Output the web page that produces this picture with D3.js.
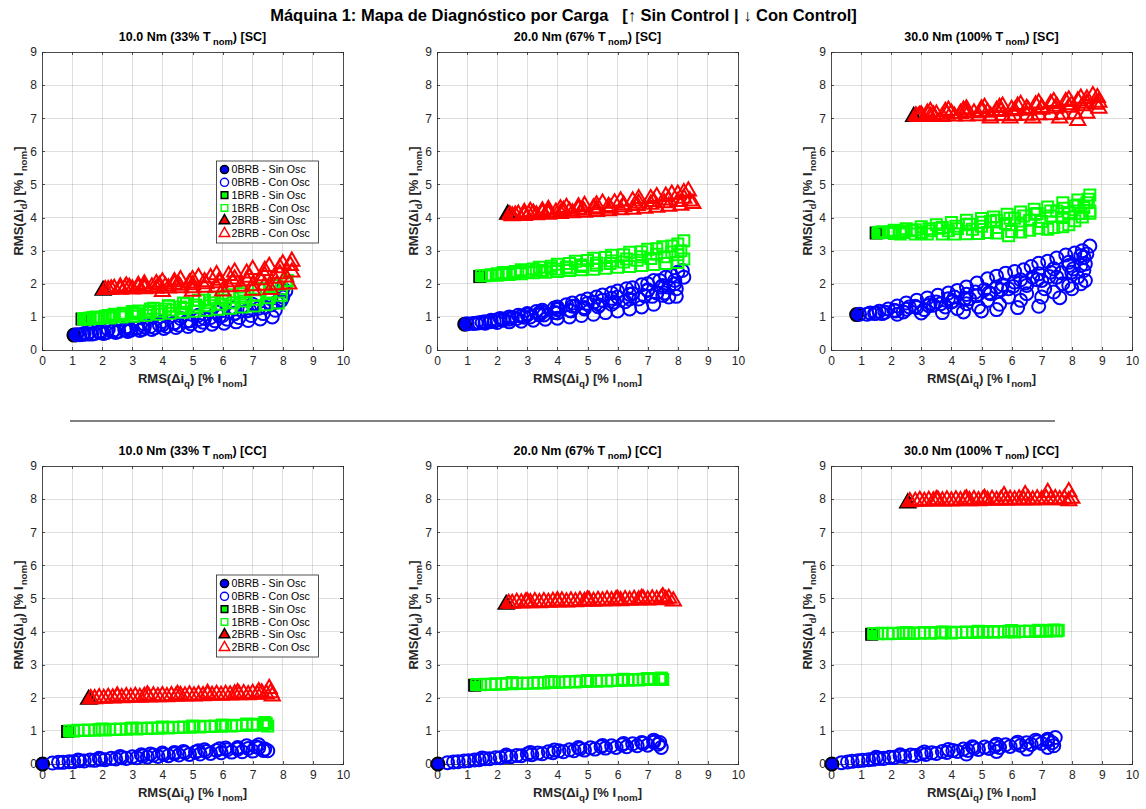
<!DOCTYPE html>
<meta charset="utf-8">
<style>
body { margin: 0; background: #fff; }
svg text { font-family: "Liberation Sans", Arial, sans-serif; fill: #262626; }
.axis path, .axis line { stroke: #262626; stroke-width: 0.8; fill: none; shape-rendering: crispEdges; }
.axis text { font-size: 12px; fill: #262626; }
.grid line { stroke: #262626; stroke-opacity: 0.15; shape-rendering: crispEdges; }
.ttl { font-size: 12.5px; font-weight: bold; fill: #000; }
.lbl { font-size: 13px; font-weight: bold; fill: #262626; }
.leg text { font-size: 10.6px; fill: #000; }
</style>
<body>
<script src="https://cdn.jsdelivr.net/npm/d3@7"></script>
<script>

// tick values
var xTickVals = [0, 1, 2, 3, 4, 5, 6, 7, 8, 9, 10];
var yTickVals = [0, 1, 2, 3, 4, 5, 6, 7, 8, 9];

var legendNames = ["0BRB - Sin Osc", "0BRB - Con Osc", "1BRB - Sin Osc", "1BRB - Con Osc", "2BRB - Sin Osc", "2BRB - Con Osc"];
var loads = ["10.0", "20.0", "30.0"];
var pcts = ["33%", "67%", "100%"];
var modes = ["SC", "CC"];

// ---- Sin Control (SC) ----
// points without oscillation: [0BRB, 1BRB, 2BRB]
var sinSC10 = [[1.06, 0.45], [1.33, 0.94], [2.03, 1.8]];
var sinSC20 = [[0.92, 0.78], [1.42, 2.22], [2.35, 4.1]];
var sinSC30 = [[0.85, 1.07], [1.5, 3.53], [2.75, 7.05]];

var conSC10_0 = [[1.15,0.46],[1.25,0.46],[1.65,0.48],[2.05,0.5],[2.45,0.53],[2.85,0.56],[3.25,0.59],[3.65,0.62],[4.05,0.65],[4.45,0.68],[4.85,0.71],[5.25,0.74],[5.65,0.78],[6.05,0.81],[6.45,0.85],[6.85,0.89],[7.25,0.94],[7.65,1.0],
  [1.4,0.5],[1.9,0.55],[2.4,0.6],[2.9,0.65],[3.4,0.7],[3.9,0.76],[4.4,0.82],[4.9,0.88],[5.4,0.95],[5.9,1.02],[6.4,1.1],[6.9,1.2],[7.4,1.3],[7.8,1.45],[8.0,1.6],[8.1,1.78],
  [1.6,0.55],[2.2,0.62],[2.8,0.7],[3.4,0.78],[4.0,0.86],[4.6,0.95],[5.2,1.05],[5.8,1.15],[6.4,1.26],[7.0,1.38],[7.6,1.55],[8.0,1.85],
  [1.35,0.47],[1.75,0.5],[2.15,0.53],[2.55,0.56],[2.95,0.6],[3.35,0.63],[3.75,0.67],[4.15,0.71],[4.55,0.75],[4.95,0.79],[5.35,0.84],[5.75,0.88],[6.15,0.93],[6.55,0.98],[6.95,1.04],[7.35,1.1],[7.75,1.2],
  [1.5,0.48],[1.95,0.52],[2.35,0.57],[2.75,0.61],[3.15,0.66],[3.6,0.71],[4.0,0.76],[4.4,0.81],[4.8,0.86],[5.2,0.92],[5.6,0.98],[6.0,1.04],[6.4,1.11],[6.8,1.18],[7.2,1.26],[7.6,1.36],[7.95,1.5]];
var conSC10_1 = [[1.38,0.95],[1.45,0.93],[1.85,0.95],[2.25,0.97],[2.65,1.0],[3.05,1.02],[3.45,1.05],[3.85,1.08],[4.25,1.11],[4.65,1.14],[5.05,1.17],[5.45,1.2],[5.85,1.23],[6.25,1.26],[6.65,1.3],[7.05,1.33],[7.45,1.37],[7.85,1.42],
  [1.6,0.97],[2.1,1.02],[2.6,1.07],[3.1,1.12],[3.6,1.18],[4.1,1.24],[4.6,1.3],[5.1,1.36],[5.6,1.43],[6.1,1.5],[6.6,1.57],[7.1,1.65],[7.6,1.75],[7.95,1.85],
  [1.8,1.0],[2.4,1.08],[3.0,1.16],[3.6,1.24],[4.2,1.32],[4.8,1.4],[5.4,1.5],[6.0,1.6],[6.6,1.7],[7.2,1.82],[7.7,1.95],[8.15,2.1],
  [1.55,0.94],[1.95,0.98],[2.35,1.02],[2.75,1.05],[3.15,1.09],[3.55,1.13],[3.95,1.17],[4.35,1.21],[4.75,1.25],[5.15,1.29],[5.55,1.34],[5.95,1.38],[6.35,1.43],[6.75,1.48],[7.15,1.53],[7.55,1.58],[7.95,1.65],
  [1.7,0.98],[2.2,1.04],[2.7,1.11],[3.2,1.18],[3.7,1.26],[4.2,1.34],[4.7,1.42],[5.2,1.5],[5.7,1.58],[6.2,1.67],[6.7,1.76],[7.2,1.86],[7.7,1.98],[8.1,2.0]];
var conSC10_2 = [[2.1,1.82],[2.2,1.82],[2.6,1.83],[3.0,1.84],[3.4,1.85],[3.8,1.86],[4.2,1.87],[4.6,1.88],[5.0,1.88],[5.4,1.89],[5.8,1.9],[6.2,1.91],[6.6,1.92],[7.0,1.94],[7.4,1.95],[7.8,1.97],[8.2,1.99],
  [2.4,1.86],[2.9,1.89],[3.4,1.92],[3.9,1.95],[4.4,1.98],[4.9,2.02],[5.4,2.06],[5.9,2.1],[6.4,2.14],[6.9,2.19],[7.4,2.24],[7.9,2.3],[8.3,2.35],
  [2.6,1.9],[3.2,1.95],[3.8,2.0],[4.4,2.06],[5.0,2.12],[5.6,2.18],[6.2,2.25],[6.8,2.32],[7.4,2.4],[7.9,2.48],[8.25,2.55],
  [2.3,1.84],[2.75,1.86],[3.2,1.88],[3.65,1.9],[4.1,1.92],[4.55,1.95],[5.0,1.97],[5.45,2.0],[5.9,2.03],[6.35,2.06],[6.8,2.09],[7.25,2.12],[7.7,2.16],[8.1,2.2],
  [2.8,1.93],[3.4,1.99],[4.0,2.05],[4.6,2.12],[5.2,2.19],[5.8,2.27],[6.4,2.35],[7.0,2.43],[7.55,2.52],[8.0,2.6],[8.3,2.68],
  [4.0,1.76],[5.0,1.77],[6.0,1.78],[7.0,1.8],[7.6,1.82]];

var conSC20_0 = [[1.0,0.79],[1.2,0.8],[1.6,0.81],[2.0,0.83],[2.4,0.85],[2.8,0.87],[3.2,0.9],[3.6,0.93],[4.0,0.96],[4.4,1.0],[4.8,1.04],[5.2,1.08],[5.6,1.13],[6.0,1.18],[6.4,1.24],[6.8,1.3],[7.2,1.38],
  [1.4,0.82],[1.9,0.87],[2.4,0.93],[2.9,0.99],[3.4,1.06],[3.9,1.13],[4.4,1.2],[4.9,1.28],[5.4,1.36],[5.9,1.45],[6.4,1.54],[6.9,1.63],[7.3,1.72],[7.7,1.6],[7.95,1.62],
  [1.6,0.85],[2.2,0.93],[2.8,1.02],[3.4,1.12],[4.0,1.22],[4.6,1.33],[5.2,1.44],[5.8,1.56],[6.4,1.68],[7.0,1.82],[7.5,1.95],[7.9,2.1],
  [1.8,0.9],[2.4,1.0],[3.0,1.1],[3.5,1.2],[4.0,1.3],[4.5,1.42],[5.0,1.54],[5.5,1.66],[6.0,1.78],[6.5,1.88],[7.0,2.0],[7.4,2.1],[7.8,2.25],[8.15,2.4],
  [7.5,1.65],[7.7,1.9],
  [1.3,0.81],[1.75,0.85],[2.2,0.9],[2.65,0.95],[3.1,1.0],[3.55,1.06],[4.0,1.12],[4.45,1.18],[4.9,1.24],[5.35,1.31],[5.8,1.38],[6.25,1.46],[6.7,1.54],[7.15,1.62],[7.55,1.72],[7.95,1.85],
  [1.5,0.84],[2.0,0.91],[2.5,0.98],[3.0,1.06],[3.5,1.14],[4.0,1.23],[4.5,1.32],[5.0,1.41],[5.5,1.5],[6.0,1.6],[6.5,1.7],[7.0,1.8],[7.45,1.9],[7.9,2.0],[8.2,2.2],
  [2.1,0.95],[2.7,1.05],[3.3,1.16],[3.9,1.27],[4.3,1.37],[4.8,1.48],[5.3,1.6],[5.8,1.72],[6.3,1.85],[6.8,1.97],[7.2,2.1],[7.6,2.2],[8.0,2.35]];
var conSC20_1 = [[1.48,2.24],[1.6,2.24],[2.0,2.26],[2.4,2.28],[2.8,2.3],[3.2,2.33],[3.6,2.35],[4.0,2.37],[4.4,2.4],[4.8,2.42],[5.2,2.44],[5.6,2.47],[6.0,2.5],[6.4,2.52],[6.8,2.55],[7.2,2.58],[7.6,2.61],[8.0,2.64],
  [1.8,2.27],[2.3,2.31],[2.8,2.36],[3.3,2.41],[3.8,2.46],[4.3,2.51],[4.8,2.57],[5.3,2.63],[5.8,2.69],[6.3,2.75],[6.8,2.82],[7.3,2.89],[7.8,2.96],[8.1,3.0],
  [2.0,2.3],[2.6,2.37],[3.2,2.45],[3.8,2.53],[4.4,2.61],[5.0,2.7],[5.6,2.79],[6.2,2.88],[6.8,2.97],[7.3,3.06],[7.8,3.14],[8.2,3.3],
  [1.7,2.25],[2.15,2.28],[2.6,2.32],[3.05,2.36],[3.5,2.4],[3.95,2.44],[4.4,2.48],[4.85,2.52],[5.3,2.56],[5.75,2.61],[6.2,2.66],[6.65,2.71],[7.1,2.76],[7.55,2.82],[8.0,2.88],[8.2,2.75],
  [2.2,2.34],[2.8,2.42],[3.4,2.5],[4.0,2.59],[4.6,2.68],[5.2,2.77],[5.8,2.86],[6.4,2.95],[7.0,3.04],[7.5,3.12],[8.0,3.2]];
var conSC20_2 = [[2.42,4.08],[2.5,4.05],[2.9,4.06],[3.3,4.08],[3.7,4.1],[4.1,4.12],[4.5,4.14],[4.9,4.16],[5.3,4.18],[5.7,4.2],[6.1,4.23],[6.5,4.25],[6.9,4.28],[7.3,4.31],[7.7,4.34],[8.1,4.37],[8.5,4.42],
  [2.7,4.1],[3.2,4.13],[3.7,4.17],[4.2,4.21],[4.7,4.25],[5.2,4.29],[5.7,4.33],[6.2,4.38],[6.7,4.43],[7.2,4.48],[7.7,4.53],[8.2,4.58],
  [2.9,4.15],[3.5,4.2],[4.1,4.26],[4.7,4.32],[5.3,4.38],[5.9,4.44],[6.5,4.5],[7.1,4.57],[7.6,4.64],[8.0,4.7],[8.35,4.8],
  [2.6,4.07],[3.05,4.1],[3.5,4.13],[3.95,4.16],[4.4,4.19],[4.85,4.22],[5.3,4.25],[5.75,4.28],[6.2,4.32],[6.65,4.36],[7.1,4.4],[7.55,4.44],[8.0,4.48],[8.4,4.5],
  [3.1,4.18],[3.7,4.24],[4.3,4.3],[4.9,4.36],[5.5,4.43],[6.1,4.5],[6.7,4.57],[7.3,4.63],[7.8,4.7],[8.2,4.75]];

var conSC30_0 = [[0.95,1.08],[1.3,1.12],[1.6,1.17],[1.9,1.24],[2.2,1.33],[2.5,1.42],[2.85,1.5],[3.2,1.57],[3.55,1.65],[3.9,1.72],[4.2,1.8],[4.5,1.9],[4.85,2.02],[5.2,2.15],[5.5,2.23],[5.8,2.32],[6.1,2.37],[6.4,2.42],[6.65,2.52],[6.9,2.62],[7.2,2.68],[7.5,2.78],[7.8,2.87],[8.1,2.93],[8.35,3.0],[8.6,3.14],
  [1.5,1.12],[2.1,1.2],[2.8,1.32],[3.5,1.45],[4.1,1.6],[4.8,1.75],[5.5,1.9],[6.1,2.05],[6.7,2.2],[7.3,2.35],[7.9,2.55],[8.4,2.8],[8.5,2.9],
  [1.7,1.1],[2.4,1.15],[3.1,1.22],[3.8,1.3],[4.5,1.4],[5.2,1.5],[5.9,1.6],[6.5,1.7],[7.1,1.85],[7.7,2.0],[8.2,2.2],[8.4,2.4],
  [2.2,1.08],[3.0,1.12],[3.7,1.13],[4.4,1.15],[5.0,1.18],[5.5,1.22],[6.2,1.28],[6.9,1.32],[7.6,1.58],[8.0,1.85],[8.45,2.1],
  [3.4,1.35],[4.0,1.45],[4.6,1.55],[5.3,1.7],[5.9,1.85],[6.5,1.95],[7.0,2.1],[7.5,2.2],[8.0,2.35],[8.3,2.55],
  [1.2,1.08],[1.45,1.1],[1.8,1.14],[2.15,1.18],[2.5,1.23],[2.85,1.28],[3.25,1.34],[3.65,1.4],[4.05,1.48],[4.45,1.56],[4.85,1.64],[5.25,1.73],[5.65,1.82],[6.05,1.92],[6.45,2.02],[6.85,2.12],[7.25,2.22],[7.65,2.33],[8.05,2.45],[8.45,2.6],
  [2.6,1.3],[3.3,1.42],[3.9,1.55],[4.5,1.68],[5.1,1.82],[5.7,1.97],[6.3,2.12],[6.9,2.3],[7.4,2.45],[7.9,2.65],[8.3,2.85],
  [4.2,1.25],[4.9,1.3],[5.6,1.38],[6.3,1.5],[7.0,1.6],[7.4,1.75],[7.9,1.95],[8.3,2.0]];
var conSC30_1 = [[1.56,3.54],[1.7,3.57],[2.1,3.62],[2.5,3.66],[3.0,3.72],[3.5,3.78],[4.0,3.85],[4.5,3.92],[5.0,3.97],[5.4,4.02],[5.85,4.1],[6.3,4.17],[6.75,4.25],[7.2,4.32],[7.7,4.45],[8.2,4.53],[8.6,4.68],
  [1.9,3.55],[2.7,3.6],[3.6,3.68],[4.5,3.78],[5.3,3.88],[6.1,3.98],[6.8,4.1],[7.5,4.2],[8.1,4.35],[8.5,4.45],
  [2.1,3.52],[3.0,3.55],[3.9,3.6],[4.7,3.65],[5.5,3.7],[6.3,3.78],[7.0,3.88],[7.7,4.0],[8.3,4.12],[8.6,4.2],
  [2.3,3.5],[2.8,3.5],[3.2,3.5],[3.7,3.5],[4.1,3.5],[4.5,3.51],[4.9,3.52],[5.5,3.53],[5.9,3.45],[6.3,3.56],[6.9,3.68],[7.4,3.7],[7.9,3.78],[8.35,4.02],[8.6,4.13],
  [1.6,3.54],[2.0,3.57],[2.4,3.6],[2.8,3.63],[3.25,3.66],[3.7,3.7],[4.15,3.74],[4.6,3.8],[5.05,3.86],[5.5,3.92],[5.95,3.98],[6.4,4.05],[6.85,4.12],[7.3,4.2],[7.75,4.28],[8.2,4.38],[8.55,4.55],
  [2.4,3.55],[3.3,3.6],[4.2,3.66],[5.0,3.74],[5.8,3.82],[6.6,3.92],[7.3,4.05],[7.9,4.15],[8.4,4.3],
  [5.2,3.55],[6.0,3.58],[6.6,3.62],[7.2,3.65],[7.7,3.72],[8.1,3.9]];
var conSC30_2 = [[2.82,7.07],[2.9,7.05],[3.3,7.05],[3.7,7.05],[4.1,7.06],[4.5,7.06],[4.9,7.07],[5.3,7.07],[5.7,7.08],[6.1,7.08],[6.5,7.09],[6.9,7.1],[7.3,7.1],[7.7,7.12],[8.1,7.13],[8.5,7.15],[8.9,7.3],
  [3.0,7.1],[3.5,7.12],[4.0,7.15],[4.5,7.18],[5.0,7.2],[5.5,7.23],[6.0,7.26],[6.5,7.29],[7.0,7.32],[7.5,7.36],[8.0,7.4],[8.5,7.45],[8.9,7.48],
  [3.2,7.15],[3.8,7.2],[4.4,7.24],[5.0,7.28],[5.6,7.32],[6.2,7.36],[6.8,7.4],[7.3,7.44],[7.8,7.5],[8.2,7.52],[8.5,7.58],[8.85,7.62],
  [2.95,7.08],[3.4,7.1],[3.85,7.12],[4.3,7.14],[4.75,7.16],[5.2,7.18],[5.65,7.2],[6.1,7.22],[6.55,7.24],[7.0,7.27],[7.45,7.3],[7.9,7.33],[8.35,7.37],[8.8,7.42],
  [3.3,7.2],[3.9,7.24],[4.5,7.28],[5.1,7.32],[5.7,7.36],[6.3,7.41],[6.9,7.46],[7.4,7.5],[7.9,7.55],[8.3,7.6],[8.7,7.68],
  [5.3,7.0],[5.95,7.0],[6.7,7.0],[7.6,7.0],[8.2,6.93]];

// ---- Con Control (CC) ----
var sinCC10 = [[0.02, 0.0], [0.85, 0.98], [1.55, 1.95]];
var sinCC20 = [[0.03, 0.0], [1.25, 2.38], [2.3, 4.82]];
var sinCC30 = [[0.03, 0.0], [1.35, 3.92], [2.55, 7.88]];

var conCC10_0 = [[0.35,0.03],[0.7,0.05],[1.05,0.07],[1.4,0.09],[1.75,0.11],[2.1,0.13],[2.45,0.15],[2.8,0.17],[3.15,0.19],[3.5,0.21],[3.85,0.23],[4.2,0.25],[4.55,0.27],[4.9,0.29],[5.25,0.3],[5.6,0.32],[5.95,0.34],[6.3,0.36],[6.65,0.37],[7.0,0.39],[7.35,0.41],[7.5,0.4],
  [1.2,0.12],[1.9,0.17],[2.6,0.23],[3.3,0.28],[4.0,0.33],[4.7,0.38],[5.4,0.43],[6.1,0.48],[6.8,0.55],[7.2,0.58],
  [3.6,0.3],[4.4,0.35],[5.2,0.4],[5.9,0.46],[6.5,0.5],[7.1,0.52],[7.4,0.45],
  [0.55,0.05],[0.9,0.07],[1.25,0.1],[1.6,0.12],[1.95,0.14],[2.3,0.17],[2.65,0.19],[3.0,0.22],[3.35,0.24],[3.7,0.27],[4.05,0.29],[4.4,0.31],[4.75,0.34],[5.1,0.36],[5.45,0.38],[5.8,0.41],[6.15,0.43],[6.5,0.45],[6.85,0.47],[7.2,0.49]];
var conCC10_1 = [[0.92,1.0],[1.05,1.0],[1.4,1.01],[1.75,1.02],[2.1,1.03],[2.45,1.04],[2.8,1.05],[3.15,1.06],[3.5,1.07],[3.85,1.08],[4.2,1.09],[4.55,1.1],[4.9,1.11],[5.25,1.12],[5.6,1.13],[5.95,1.14],[6.3,1.15],[6.65,1.16],[7.0,1.17],[7.35,1.18],[7.5,1.15],
  [2.0,1.06],[3.0,1.09],[4.0,1.12],[5.0,1.15],[6.0,1.18],[6.8,1.21],[7.4,1.25],
  [1.2,1.02],[1.55,1.03],[1.9,1.04],[2.25,1.05],[2.6,1.06],[2.95,1.07],[3.3,1.08],[3.65,1.09],[4.0,1.1],[4.35,1.11],[4.7,1.12],[5.05,1.13],[5.4,1.14],[5.75,1.15],[6.1,1.16],[6.45,1.17],[6.8,1.18],[7.15,1.2],[7.45,1.22]];
var conCC10_2 = [[1.62,1.97],[1.75,1.97],[2.05,1.98],[2.35,1.99],[2.65,2.0],[2.95,2.01],[3.25,2.01],[3.55,2.02],[3.85,2.03],[4.15,2.03],[4.45,2.04],[4.75,2.05],[5.05,2.05],[5.35,2.06],[5.65,2.07],[5.95,2.07],[6.25,2.08],[6.55,2.09],[6.85,2.09],[7.15,2.1],[7.45,2.11],[7.65,2.05],
  [2.5,2.05],[3.5,2.08],[4.5,2.1],[5.5,2.13],[6.5,2.15],[7.2,2.18],[7.55,2.28],
  [1.9,2.0],[2.2,2.01],[2.5,2.02],[2.8,2.03],[3.1,2.04],[3.4,2.04],[3.7,2.05],[4.0,2.06],[4.3,2.06],[4.6,2.07],[4.9,2.08],[5.2,2.08],[5.5,2.09],[5.8,2.1],[6.1,2.1],[6.4,2.11],[6.7,2.12],[7.0,2.13],[7.3,2.14],[7.6,2.15]];

var conCC20_0 = [[0.35,0.04],[0.7,0.07],[1.05,0.1],[1.4,0.13],[1.75,0.16],[2.1,0.19],[2.45,0.22],[2.8,0.25],[3.15,0.28],[3.5,0.31],[3.85,0.34],[4.2,0.37],[4.55,0.4],[4.9,0.42],[5.25,0.45],[5.6,0.48],[5.95,0.5],[6.3,0.52],[6.65,0.55],[7.0,0.57],[7.35,0.6],[7.45,0.5],
  [1.5,0.18],[2.3,0.27],[3.1,0.35],[3.9,0.42],[4.7,0.5],[5.5,0.56],[6.2,0.62],[6.8,0.65],[7.2,0.72],[7.4,0.65],
  [0.55,0.06],[0.9,0.09],[1.25,0.12],[1.6,0.16],[1.95,0.19],[2.3,0.23],[2.65,0.26],[3.0,0.3],[3.35,0.33],[3.7,0.37],[4.05,0.4],[4.4,0.43],[4.75,0.46],[5.1,0.49],[5.45,0.52],[5.8,0.55],[6.15,0.58],[6.5,0.61],[6.85,0.63],[7.2,0.66]];
var conCC20_1 = [[1.32,2.4],[1.45,2.39],[1.8,2.4],[2.15,2.41],[2.5,2.42],[2.85,2.43],[3.2,2.44],[3.55,2.45],[3.9,2.46],[4.25,2.47],[4.6,2.48],[4.95,2.49],[5.3,2.5],[5.65,2.51],[6.0,2.52],[6.35,2.53],[6.7,2.54],[7.05,2.55],[7.4,2.56],[7.5,2.55],
  [2.5,2.46],[3.8,2.49],[5.0,2.52],[6.2,2.56],[7.0,2.58],[7.45,2.6],
  [1.6,2.41],[1.95,2.42],[2.3,2.43],[2.65,2.44],[3.0,2.45],[3.35,2.46],[3.7,2.47],[4.05,2.48],[4.4,2.49],[4.75,2.5],[5.1,2.51],[5.45,2.52],[5.8,2.53],[6.15,2.54],[6.5,2.55],[6.85,2.56],[7.2,2.57],[7.45,2.58]];
var conCC20_2 = [[2.38,4.85],[2.5,4.85],[2.8,4.86],[3.1,4.87],[3.4,4.87],[3.7,4.88],[4.0,4.89],[4.3,4.89],[4.6,4.9],[4.9,4.91],[5.2,4.91],[5.5,4.92],[5.8,4.93],[6.1,4.93],[6.4,4.94],[6.7,4.95],[7.0,4.95],[7.3,4.96],[7.6,4.97],[7.85,4.92],
  [3.0,4.9],[4.0,4.93],[5.0,4.95],[6.0,4.97],[6.8,5.0],[7.5,5.05],
  [2.65,4.88],[2.95,4.89],[3.25,4.9],[3.55,4.9],[3.85,4.91],[4.15,4.92],[4.45,4.92],[4.75,4.93],[5.05,4.94],[5.35,4.94],[5.65,4.95],[5.95,4.96],[6.25,4.96],[6.55,4.97],[6.85,4.98],[7.15,4.98],[7.45,4.99],[7.7,5.0]];

var conCC30_0 = [[0.35,0.04],[0.7,0.08],[1.05,0.11],[1.4,0.14],[1.75,0.17],[2.1,0.2],[2.45,0.23],[2.8,0.26],[3.15,0.29],[3.5,0.32],[3.85,0.35],[4.2,0.38],[4.55,0.41],[4.9,0.44],[5.25,0.47],[5.6,0.5],[5.95,0.53],[6.3,0.56],[6.65,0.59],[7.0,0.62],[7.35,0.64],[7.4,0.55],
  [1.5,0.2],[2.3,0.28],[3.1,0.36],[3.9,0.44],[4.7,0.52],[5.5,0.6],[6.2,0.66],[6.8,0.72],[7.2,0.75],[7.45,0.8],
  [4.5,0.3],[5.5,0.38],[6.5,0.45],[7.2,0.5],
  [0.55,0.06],[0.9,0.1],[1.25,0.13],[1.6,0.17],[1.95,0.2],[2.3,0.24],[2.65,0.27],[3.0,0.31],[3.35,0.34],[3.7,0.38],[4.05,0.41],[4.4,0.45],[4.75,0.48],[5.1,0.51],[5.45,0.54],[5.8,0.58],[6.15,0.61],[6.5,0.64],[6.85,0.67],[7.2,0.7]];
var conCC30_1 = [[1.42,3.94],[1.55,3.93],[1.9,3.93],[2.25,3.94],[2.6,3.94],[2.95,3.95],[3.3,3.95],[3.65,3.96],[4.0,3.96],[4.35,3.97],[4.7,3.97],[5.05,3.98],[5.4,3.98],[5.75,3.99],[6.1,3.99],[6.45,4.0],[6.8,4.0],[7.15,4.01],[7.5,4.02],
  [2.5,3.97],[3.7,3.99],[4.9,4.01],[6.0,4.03],[6.9,4.04],[7.4,4.05],
  [1.7,3.95],[2.05,3.95],[2.4,3.96],[2.75,3.96],[3.1,3.97],[3.45,3.97],[3.8,3.98],[4.15,3.98],[4.5,3.99],[4.85,3.99],[5.2,4.0],[5.55,4.0],[5.9,4.01],[6.25,4.01],[6.6,4.02],[6.95,4.02],[7.3,4.03],[7.55,4.04]];
var conCC30_2 = [[2.62,7.92],[2.8,7.93],[3.1,7.93],[3.4,7.94],[3.7,7.94],[4.0,7.94],[4.3,7.95],[4.6,7.95],[4.9,7.95],[5.2,7.96],[5.5,7.96],[5.8,7.96],[6.1,7.97],[6.4,7.97],[6.7,7.97],[7.0,7.98],[7.3,7.98],[7.6,7.98],[7.9,7.95],
  [3.5,7.98],[4.5,8.0],[5.1,8.02],[5.75,8.1],[6.45,8.13],[7.2,8.2],[7.9,8.22],[8.0,8.02],
  [2.95,7.96],[3.25,7.96],[3.55,7.97],[3.85,7.97],[4.15,7.97],[4.45,7.98],[4.75,7.98],[5.05,7.98],[5.35,7.99],[5.65,7.99],[5.95,7.99],[6.25,8.0],[6.55,8.0],[6.85,8.0],[7.15,8.01],[7.45,8.01],[7.75,8.01]];

var panels = [
  {row: 0, col: 0, sin: sinSC10, con: [conSC10_0, conSC10_1, conSC10_2], legend: true},
  {row: 0, col: 1, sin: sinSC20, con: [conSC20_0, conSC20_1, conSC20_2]},
  {row: 0, col: 2, sin: sinSC30, con: [conSC30_0, conSC30_1, conSC30_2]},
  {row: 1, col: 0, sin: sinCC10, con: [conCC10_0, conCC10_1, conCC10_2], legend: true},
  {row: 1, col: 1, sin: sinCC20, con: [conCC20_0, conCC20_1, conCC20_2]},
  {row: 1, col: 2, sin: sinCC30, con: [conCC30_0, conCC30_1, conCC30_2]}
];

var colors = ["#0000ff", "#00ff00", "#ff0000"];
var shapes = [d3.symbolCircle, d3.symbolSquare, d3.symbolTriangle];
var sizes = [133, 121, 100];
var legSizes = [52, 44, 48];

var W = 1146, H = 809;
var colX = [42, 437, 831], rowY = [52, 466];
var pw = 301, ph = 298;

var svg = d3.select("body").append("svg")
    .attr("width", W)
    .attr("height", H);

svg.append("text")
    .attr("x", 563.5)
    .attr("y", 21)
    .attr("text-anchor", "middle")
    .style("font-size", "16.5px")
    .style("font-weight", "bold")
    .style("fill", "#000")
    .style("white-space", "pre")
    .text("Máquina 1: Mapa de Diagnóstico por Carga   [↑ Sin Control | ↓ Con Control]");

svg.append("line")
    .attr("x1", 70).attr("x2", 1055)
    .attr("y1", 421).attr("y2", 421)
    .style("stroke", "#808080")
    .style("stroke-width", 2);

var x = d3.scaleLinear().domain([0, 10]).range([0, pw]);
var y = d3.scaleLinear().domain([0, 9]).range([ph, 0]);

function subText(sel, parts) {
  // parts: [text, isSub, dx]
  parts.forEach(function(p, i) {
    var t = sel.append("tspan").text(p[0]);
    if (p[1]) t.attr("dy", 3.5).style("font-size", "0.75em").attr("dx", p[2] || 0);
    else if (i > 0 && parts[i - 1][1]) t.attr("dy", -3.5);
  });
}

panels.forEach(function(p) {
  var g = svg.append("g")
      .attr("transform", "translate(" + colX[p.col] + "," + rowY[p.row] + ")");

  // grid
  var grid = g.append("g").attr("class", "grid");
  grid.selectAll(".gx").data(xTickVals).enter().append("line")
      .attr("x1", function(d) { return x(d); }).attr("x2", function(d) { return x(d); })
      .attr("y1", 0).attr("y2", ph);
  grid.selectAll(".gy").data(yTickVals).enter().append("line")
      .attr("y1", function(d) { return y(d); }).attr("y2", function(d) { return y(d); })
      .attr("x1", 0).attr("x2", pw);

  // axes (box on, inward ticks)
  g.append("g").attr("class", "axis")
      .attr("transform", "translate(0," + ph + ")")
      .call(d3.axisBottom(x).tickValues(xTickVals).tickSize(-3).tickPadding(6.5).tickSizeOuter(0));
  g.append("g").attr("class", "axis")
      .call(d3.axisTop(x).tickValues(xTickVals).tickSize(-3).tickFormat("").tickSizeOuter(0));
  g.append("g").attr("class", "axis")
      .call(d3.axisLeft(y).tickValues(yTickVals).tickSize(-3).tickPadding(5).tickSizeOuter(0));
  g.append("g").attr("class", "axis")
      .attr("transform", "translate(" + pw + ",0)")
      .call(d3.axisRight(y).tickValues(yTickVals).tickSize(-3).tickFormat("").tickSizeOuter(0));

  // titles
  var t = g.append("text").attr("class", "ttl")
      .attr("x", pw / 2).attr("y", -11)
      .attr("text-anchor", "middle");
  subText(t, [[loads[p.col] + " Nm (" + pcts[p.col] + " T"], ["nom", true, 2.5], [") [" + modes[p.row] + "]"]]);

  var xl = g.append("text").attr("class", "lbl")
      .attr("x", pw / 2).attr("y", ph + 33)
      .attr("text-anchor", "middle");
  subText(xl, [["RMS(Δi"], ["q", true], [") [% I"], ["nom", true, 1], ["]"]]);

  var yl = g.append("text").attr("class", "lbl")
      .attr("transform", "translate(-19," + (ph / 2) + ") rotate(-90)")
      .attr("text-anchor", "middle");
  subText(yl, [["RMS(Δi"], ["d", true], [") [% I"], ["nom", true, 1], ["]"]]);

  // markers: Sin then Con for each BRB level
  for (var k = 0; k < 3; k++) {
    var sym = d3.symbol().type(shapes[k]).size(sizes[k]);
    g.append("path")
        .attr("d", sym)
        .attr("transform", "translate(" + x(p.sin[k][0]) + "," + y(p.sin[k][1]) + ")")
        .style("fill", colors[k])
        .style("stroke", "#000")
        .style("stroke-width", 2);
    g.selectAll(".c" + k)
        .data(p.con[k])
      .enter().append("path")
        .attr("class", "c" + k)
        .attr("d", sym)
        .attr("transform", function(d) { return "translate(" + x(d[0]) + "," + y(d[1]) + ")"; })
        .style("fill", "none")
        .style("stroke", colors[k])
        .style("stroke-width", 2);
  }

  if (p.legend) {
    var lg = g.append("g").attr("class", "leg")
        .attr("transform", "translate(174.5,109)");
    lg.append("rect")
        .attr("width", 102).attr("height", 82)
        .style("fill", "#fff")
        .style("stroke", "#262626")
        .style("stroke-width", 0.8);
    legendNames.forEach(function(name, i) {
      var k = Math.floor(i / 2), filled = i % 2 === 0;
      var yy = 8.5 + i * 12.8;
      lg.append("path")
          .attr("d", d3.symbol().type(shapes[k]).size(legSizes[k]))
          .attr("transform", "translate(8," + yy + ")")
          .style("fill", filled ? colors[k] : "#fff")
          .style("stroke", filled ? "#000" : colors[k])
          .style("stroke-width", filled ? 1.5 : 1.4);
      lg.append("text")
          .attr("x", 15).attr("y", yy + 3.7)
          .text(name);
    });
  }
});

</script>
